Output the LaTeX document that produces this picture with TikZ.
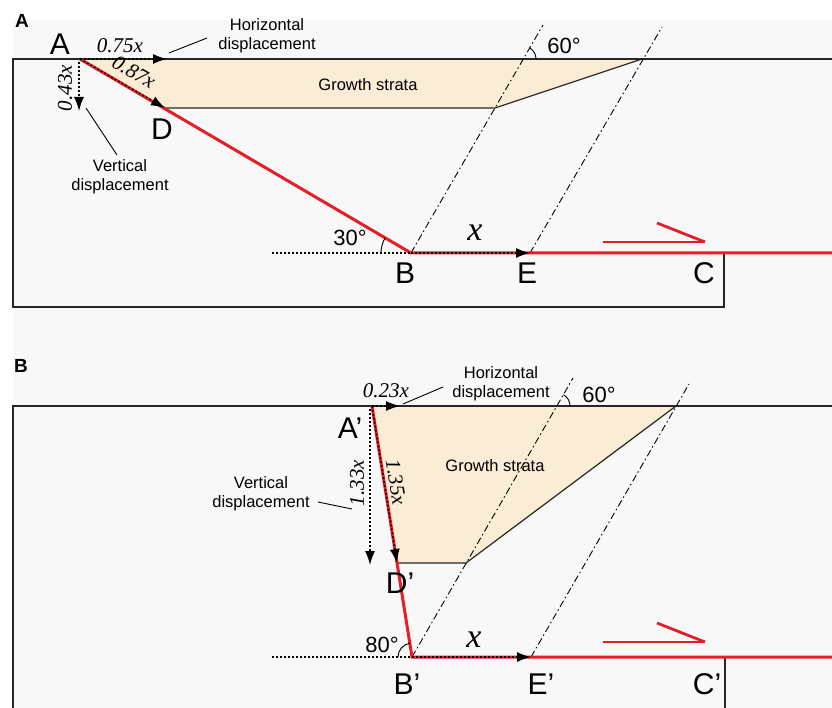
\documentclass[tikz,border=0pt]{standalone}
\usepackage{fontspec}
\setmainfont{Liberation Sans}
\newfontfamily\tnr{Liberation Serif}
\usepackage{xcolor}
\usepackage{tikz}
\usetikzlibrary{arrows.meta}

\definecolor{faultred}{RGB}{228,30,38}
\definecolor{strata}{RGB}{251,236,214}
\definecolor{panelgrey}{RGB}{248,248,248}

\begin{document}
\begin{tikzpicture}[x=1pt,y=1pt,
  fault/.style={faultred, line width=3pt},
  boxline/.style={black!85, line width=1.2pt},
  axial/.style={line width=0.9pt, dash pattern=on 7pt off 3pt on 1.5pt off 3pt},
  dotref/.style={line width=1.5pt, dash pattern=on 1.8pt off 2.2pt},
  disp/.style={dotref, -{Latex[length=14pt,width=10pt]}},
  leader/.style={line width=0.9pt},
  sense/.style={faultred, line width=2.8pt},
  ptlabel/.style={font=\fontsize{30}{32}\selectfont, inner sep=0pt},
  note/.style={font=\fontsize{16.5}{19}\selectfont, align=center, inner sep=0pt},
  deg/.style={font=\fontsize{22}{24}\selectfont, inner sep=0pt},
  coef/.style={font=\tnr\itshape\fontsize{21}{24}\selectfont, inner sep=0pt},
  panel/.style={font=\bfseries\fontsize{19}{20}\selectfont, inner sep=0pt}]
\useasboundingbox (0,0) rectangle (832,-708);
\fill[panelgrey] (13,-20) rectangle (832,-708);

% ---------- panel A: 30 degree ramp ----------
\coordinate (A) at (80,-59);
\coordinate (D) at (165,-108);
\coordinate (B) at (411,-253);
\coordinate (E) at (530,-253);
\coordinate (Hx) at (167,-59);
\coordinate (Vx) at (79,-111);
\coordinate (SAr) at (642,-59);
\coordinate (SAb) at (495,-108);
% growth strata wedge
\fill[strata] (A) -- (SAr) -- (SAb) -- (D) -- cycle;
\draw[boxline] (D) -- (SAb) -- (SAr);
% block outline
\draw[boxline] (832,-59) -- (13,-59) -- (13,-307) -- (724,-307) -- (724,-253);
% axial surfaces
\draw[axial] (B) -- (543,-25);
\draw[axial] (E) -- (662,-27);
% fault
\draw[fault] (A) -- (B) -- (832,-253);
\draw[sense] (603,-242) -- (705,-242);
\draw[sense] (657,-223) -- (705,-242);
% displacements
\draw[dotref] (272,-253) -- (B);
\draw[disp] (B) -- (E);
\draw[disp] (A) -- (Hx);
\draw[disp] (A) -- (D);
\draw[disp] (79,-62) -- (Vx);
% angles
\draw[leader] (536,-59) arc[start angle=0, end angle=60, radius=13];
\draw[leader] (381,-253) arc[start angle=180, end angle=150, radius=30];
% labels
\node[panel] (pA) at (22,-21) {A};
\node[ptlabel] (lA) at (60,-44) {A};
\node[ptlabel] (lD) at (162,-129) {D};
\node[ptlabel] (lB) at (405,-273) {B};
\node[ptlabel] (lE) at (527,-273) {E};
\node[ptlabel] (lC) at (704,-273) {C};
\node[coef] (hA) at (120,-46) {0.75x};
\node[coef, rotate=-30] (sA) at (134,-72) {0.87x};
\node[coef, rotate=90] (vA) at (65,-88) {0.43x};
\node[coef, font=\tnr\itshape\fontsize{34}{36}\selectfont] (xA) at (475,-233) {x};
\node[deg] (d60A) at (564,-46) {60°};
\node[deg] (d30A) at (350,-238) {30°};
\node[note] (hnA) at (267,-36) {Horizontal\\displacement};
\node[note] (vnA) at (120,-177) {Vertical\\displacement};
\node[note] (gA) at (368,-85) {Growth strata};
\coordinate (hlA) at (207,-38);
\coordinate (vlA) at (117,-155);
\draw[leader] (169,-53) -- (hlA);
\draw[leader] (86,-108) -- (vlA);

% ---------- panel B: 80 degree ramp ----------
\coordinate (Ap) at (372,-406);
\coordinate (Dp) at (397,-563);
\coordinate (Bp) at (412,-657);
\coordinate (Ep) at (531,-657);
\coordinate (Hxp) at (400,-406);
\coordinate (Vxp) at (370,-565);
\coordinate (SBr) at (676,-406);
\coordinate (SBb) at (466,-563);
% growth strata wedge
\fill[strata] (Ap) -- (SBr) -- (SBb) -- (Dp) -- cycle;
\draw[boxline] (Dp) -- (SBb) -- (SBr);
% block outline
\draw[boxline] (832,-406) -- (13,-406) -- (13,-708);
\draw[boxline] (725,-657) -- (725,-708);
% axial surfaces
\draw[axial] (Bp) -- (573,-378);
\draw[axial] (Ep) -- (689,-384);
% fault
\draw[fault] (Ap) -- (Bp) -- (832,-657);
\draw[sense] (603,-642) -- (705,-642);
\draw[sense] (657,-623) -- (705,-642);
% displacements
\draw[dotref] (272,-657) -- (Bp);
\draw[disp] (Bp) -- (Ep);
\draw[disp] (Ap) -- (Hxp);
\draw[disp] (Ap) -- (Dp);
\draw[disp] (370,-409) -- (Vxp);
% angles
\draw[leader] (570,-406) arc[start angle=0, end angle=60, radius=13];
\draw[leader] (398,-657) arc[start angle=180, end angle=99, radius=14];
% labels
\node[panel] (pB) at (21,-366) {B};
\node[ptlabel] (lAp) at (350,-428) {A’};
\node[ptlabel] (lDp) at (400,-583) {D’};
\node[ptlabel] (lBp) at (407,-684) {B’};
\node[ptlabel] (lEp) at (541,-684) {E’};
\node[ptlabel] (lCp) at (707,-684) {C’};
\node[coef] (hB) at (386,-391) {0.23x};
\node[coef, rotate=90] (vB) at (357,-483) {1.33x};
\node[coef, rotate=-81] (sB) at (396,-482) {1.35x};
\node[coef, font=\tnr\itshape\fontsize{34}{36}\selectfont] (xB) at (474,-640) {x};
\node[deg] (d60B) at (599,-395) {60°};
\node[deg] (d80B) at (382,-645) {80°};
\node[note] (hnB) at (501,-384) {Horizontal\\displacement};
\node[note] (vnB) at (261,-494) {Vertical\\displacement};
\node[note] (gB) at (495,-466) {Growth strata};
\coordinate (hlB) at (443,-387);
\coordinate (vlB) at (352,-509);
\draw[leader] (403,-404) -- (hlB);
\draw[leader] (318,-502) -- (vlB);
\end{tikzpicture}
\end{document}
